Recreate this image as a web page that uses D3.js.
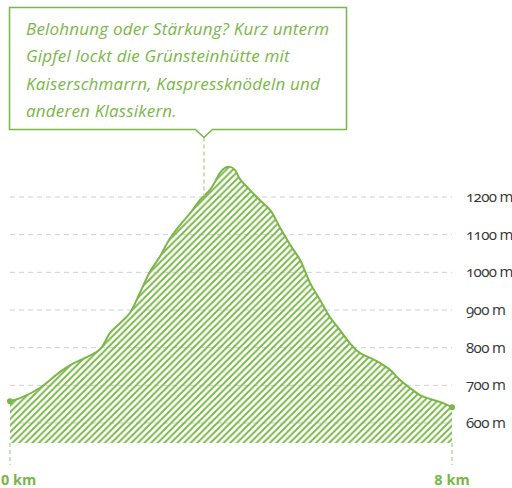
<!DOCTYPE html>
<html>
<head>
<meta charset="utf-8">
<script src="https://cdn.jsdelivr.net/npm/d3@7"></script>
<style>
  body { margin: 0; background: #fff; }
  svg { display: block; }
</style>
</head>
<body>
<script>
  const w = 512;
  const h = 488;
  const green = "#7ab648";

  // elevation profile: km, metres
  const km = [0, 0.18, 0.54, 0.9, 1.09, 1.36, 1.63, 1.81, 1.99, 2.17, 2.35, 2.53, 2.71, 2.9, 3.08, 3.26,
    3.44, 3.62, 3.71, 3.8, 3.89, 3.98, 4.07, 4.16, 4.34, 4.52, 4.71, 4.89, 5.07, 5.25, 5.43, 5.61,
    5.79, 5.97, 6.15, 6.33, 6.52, 6.7, 6.88, 7.06, 7.24, 7.42, 7.6, 7.78, 8];
  const elev = [658, 666, 693, 735, 754, 773, 796, 839, 865, 892, 945, 1001, 1041, 1091, 1126, 1157,
    1192, 1219, 1240, 1264, 1277, 1280, 1272, 1248, 1219, 1192, 1165, 1118, 1073, 1033, 972, 927,
    881, 847, 812, 786, 773, 759, 741, 714, 693, 674, 664, 656, 642];
  const yTicks = [600, 700, 800, 900, 1000, 1100, 1200];
  const xTicks = [0, 8];
  const calloutLines = [
    "Belohnung oder Stärkung? Kurz unterm",
    "Gipfel lockt die Grünsteinhütte mit",
    "Kaiserschmarrn, Kaspressknödeln und",
    "anderen Klassikern."
  ];
  const calloutKm = 3.51;
  const baseElev = 547;

  const data = km.map((k, i) => ({ k: k, e: elev[i] }));

  const xScale = d3.scaleLinear().domain([0, 8]).range([10, 452]);
  const yScale = d3.scaleLinear().domain([600, 1200]).range([423, 197]);

  const svg = d3.select("body").append("svg").attr("width", w).attr("height", h);

  const defs = svg.append("defs");
  const ps = 6.6;
  defs.append("pattern")
    .attr("id", "hatch")
    .attr("patternUnits", "userSpaceOnUse")
    .attr("width", ps)
    .attr("height", ps)
    .append("path")
    .attr("d", `M0,${ps} L${ps},0 M-1,1 L1,-1 M${ps - 1},${ps + 1} L${ps + 1},${ps - 1}`)
    .attr("stroke", green)
    .attr("stroke-width", 1.9);

  // grid
  svg.append("g")
    .selectAll("line")
    .data(yTicks)
    .join("line")
    .attr("x1", xScale(0))
    .attr("x2", xScale(8))
    .attr("y1", (d) => yScale(d))
    .attr("y2", (d) => yScale(d))
    .attr("stroke", "#cfcfcf")
    .attr("stroke-width", 1)
    .attr("stroke-dasharray", "5,4");

  const curve = d3.curveCatmullRom.alpha(0.5);

  const area = d3.area()
    .x((d) => xScale(d.k))
    .y0(yScale(baseElev))
    .y1((d) => yScale(d.e))
    .curve(curve);

  const line = d3.line()
    .x((d) => xScale(d.k))
    .y((d) => yScale(d.e))
    .curve(curve);

  svg.append("path").datum(data).attr("d", area).attr("fill", "url(#hatch)");
  svg.append("path").datum(data).attr("d", line)
    .attr("fill", "none").attr("stroke", green).attr("stroke-width", 2);

  svg.selectAll("circle.end")
    .data([data[0], data[data.length - 1]])
    .join("circle")
    .attr("class", "end")
    .attr("cx", (d) => xScale(d.k))
    .attr("cy", (d) => yScale(d.e))
    .attr("r", 3)
    .attr("fill", green);

  // y labels
  svg.append("g")
    .selectAll("text")
    .data(yTicks)
    .join("text")
    .attr("x", 466)
    .attr("y", (d) => yScale(d) + 5)
    .attr("font-family", "Open Sans")
    .attr("font-size", 15)
    .attr("letter-spacing", -0.6)
    .attr("fill", "#333")
    .style("font-variant-numeric", "oldstyle-nums")
    .text((d) => d + " m");

  // x ticks
  const base = yScale(baseElev);
  svg.append("g")
    .selectAll("line")
    .data(xTicks)
    .join("line")
    .attr("x1", (d) => xScale(d))
    .attr("x2", (d) => xScale(d))
    .attr("y1", base)
    .attr("y2", base + 22)
    .attr("stroke", "#b5d99a")
    .attr("stroke-width", 1.5)
    .attr("stroke-dasharray", "4,3");

  svg.append("g")
    .selectAll("text")
    .data(xTicks)
    .join("text")
    .attr("x", (d, i) => (i === 0 ? 1 : xScale(d)))
    .attr("y", 485)
    .attr("text-anchor", (d, i) => (i === 0 ? "start" : "middle"))
    .attr("font-family", "Open Sans")
    .attr("font-weight", "bold")
    .attr("font-size", 14.5)
    .attr("fill", green)
    .text((d) => d + " km");

  // callout
  const cx = xScale(calloutKm);
  const bx0 = 9.5, bx1 = 346.5, by0 = 7.5, by1 = 129.5;
  const curveY = yScale(d3.interpolateNumber(1192, 1219)((calloutKm - 3.44) / 0.18));
  svg.append("line")
    .attr("x1", cx).attr("x2", cx)
    .attr("y1", by1 + 8).attr("y2", curveY)
    .attr("stroke", "#b5d99a")
    .attr("stroke-width", 1.5)
    .attr("stroke-dasharray", "4,3");

  svg.append("path")
    .attr("d", `M${bx0},${by0} H${bx1} V${by1} H${cx + 8.5} L${cx},${by1 + 8} L${cx - 8.5},${by1} H${bx0} Z`)
    .attr("fill", "#fff")
    .attr("stroke", green)
    .attr("stroke-width", 1.5);

  svg.append("g")
    .selectAll("text")
    .data(calloutLines)
    .join("text")
    .attr("x", 26)
    .attr("y", (d, i) => 35 + i * 27.3)
    .attr("font-family", "Open Sans")
    .attr("font-style", "italic")
    .attr("font-size", 17)
    .attr("letter-spacing", 0.2)
    .attr("fill", green)
    .text((d) => d);
</script>
</body>
</html>
